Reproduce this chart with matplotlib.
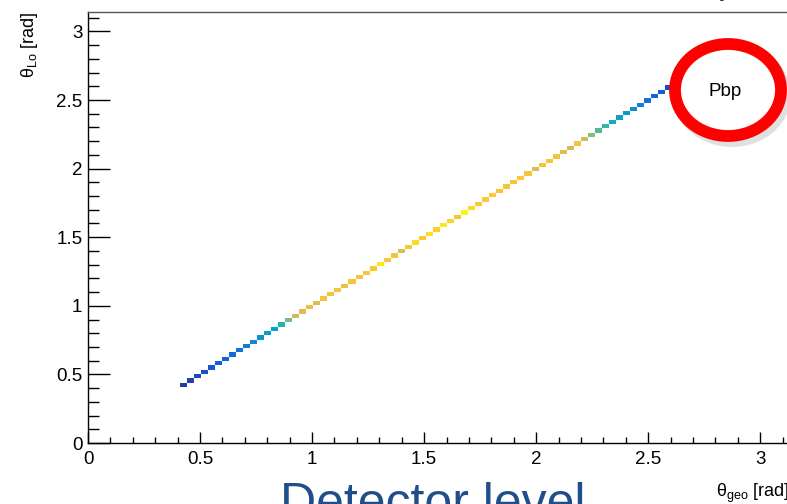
import numpy as np
import matplotlib
matplotlib.use("Agg")
import matplotlib.pyplot as plt
from matplotlib.colors import LinearSegmentedColormap
from matplotlib.patches import Ellipse
from matplotlib.ticker import MultipleLocator

plt.rcParams['font.family'] = ['Liberation Sans', 'DejaVu Sans']
plt.rcParams['mathtext.fontset'] = 'custom'
plt.rcParams['mathtext.rm'] = 'Liberation Sans'
plt.rcParams['mathtext.it'] = 'Liberation Sans:italic'

# ---- data: 100 x 100 bins on [0, pi], only diagonal bins filled ----
n_bins = 100
first_bin = 13
# bin contents (arbitrary units) along the diagonal, starting at first_bin
counts = [40, 60, 75, 95, 115, 130, 150, 170, 200, 230, 270, 310, 340, 370, 470,
          600, 740, 780, 820, 780, 840, 830, 850, 810, 855, 840, 860, 865, 950, 860,
          845, 780, 860, 920, 870, 935, 880, 945, 895, 845, 985, 915, 880, 865, 875,
          860, 855, 850, 865, 845, 780, 845, 855, 835, 780, 760, 840, 750, 620, 550,
          500, 420, 380, 340, 300, 250, 200, 160, 140, 80, 50, 40, 30]
z_max = 1000

x_ticks = [0, 0.5, 1, 1.5, 2, 2.5, 3]
y_ticks = [0, 0.5, 1, 1.5, 2, 2.5, 3]
x_label = "θ$_{\\rm geo}$ [rad]"
y_label = "θ$_{\\rm Lo}$ [rad]"

edges = np.linspace(0, np.pi, n_bins + 1)
H = np.zeros((n_bins, n_bins))
for k, c in enumerate(counts):
    i = first_bin + k
    H[i, i] = c
Hm = np.ma.masked_where(H <= 0, H)

# ROOT kBird palette
stops = [0.0, 0.125, 0.25, 0.375, 0.5, 0.625, 0.75, 0.875, 1.0]
red = [0.2082, 0.0592, 0.0780, 0.0232, 0.1802, 0.5301, 0.8186, 0.9956, 0.9764]
green = [0.1664, 0.3599, 0.5041, 0.6419, 0.7178, 0.7492, 0.7328, 0.7862, 0.9832]
blue = [0.5293, 0.8684, 0.8385, 0.7914, 0.6425, 0.4662, 0.3499, 0.1968, 0.0539]
cmap = LinearSegmentedColormap.from_list(
    "kBird", [(s, (r, g, b)) for s, r, g, b in zip(stops, red, green, blue)])

W, Hpx = 787, 504
fig = plt.figure(figsize=(W / 100, Hpx / 100), dpi=100)
left, right_px, top_px, bottom_px = 88, 792, 12, 443
ax = fig.add_axes([left / W, 1 - bottom_px / Hpx, (right_px - left) / W,
                   (bottom_px - top_px) / Hpx])
ax.pcolormesh(edges, edges, Hm.T, cmap=cmap, vmin=0, vmax=z_max)
ax.set_xlim(0, np.pi)
ax.set_ylim(0, np.pi)
ax.set_xticks(x_ticks)
ax.set_yticks(y_ticks)
ax.set_xticklabels([f"{t:g}" for t in x_ticks])
ax.set_yticklabels([f"{t:g}" for t in y_ticks])
ax.xaxis.set_minor_locator(MultipleLocator(0.1))
ax.yaxis.set_minor_locator(MultipleLocator(0.1))
ax.tick_params(axis='both', which='both', direction='in', labelsize=13.5,
               colors='black', width=1)
ax.tick_params(axis='x', which='major', length=8, pad=6)
ax.tick_params(axis='x', which='minor', length=4)
ax.tick_params(axis='y', which='major', length=16, pad=4)
ax.tick_params(axis='y', which='minor', length=8)
for sp in ax.spines.values():
    sp.set_linewidth(1)
ax.spines['top'].set_color('#555555')

fig.text(30 / W, 1 - 12 / Hpx, y_label, rotation=90, ha='center', va='top',
         fontsize=13)
fig.text(716 / W, 1 - 497 / Hpx, x_label, ha='left', va='baseline',
         fontsize=13)

# cropped text at the top edge
fig.text(745 / W, 1 + 6 / Hpx, "θ$_{\\rm geo}$ > 2 ...", ha='center', va='center',
         fontsize=11)

# big caption
fig.text(280 / W, 1 - 518 / Hpx, "Detector level", ha='left', va='baseline',
         fontsize=36, color='#1f4e8a')

# red ellipse annotation with shadow
ecx, ecy = 728, 90
ew, eh = 106, 92
shadow = Ellipse(((ecx + 4) / W, 1 - (ecy + 5) / Hpx), (ew + 12) / W, (eh + 12) / Hpx,
                 transform=fig.transFigure, facecolor='#cccccc', edgecolor='none',
                 alpha=0.6, zorder=9)
fig.patches.append(shadow)
ell = Ellipse((ecx / W, 1 - ecy / Hpx), ew / W, eh / Hpx, transform=fig.transFigure,
              facecolor='white', edgecolor='#ff0000', linewidth=8.5, zorder=10)
fig.patches.append(ell)
fig.text(725 / W, 1 - 92 / Hpx, "Pbp", ha='center', va='center', fontsize=13.5,
         zorder=11)

fig.savefig("out.png", dpi=100)
